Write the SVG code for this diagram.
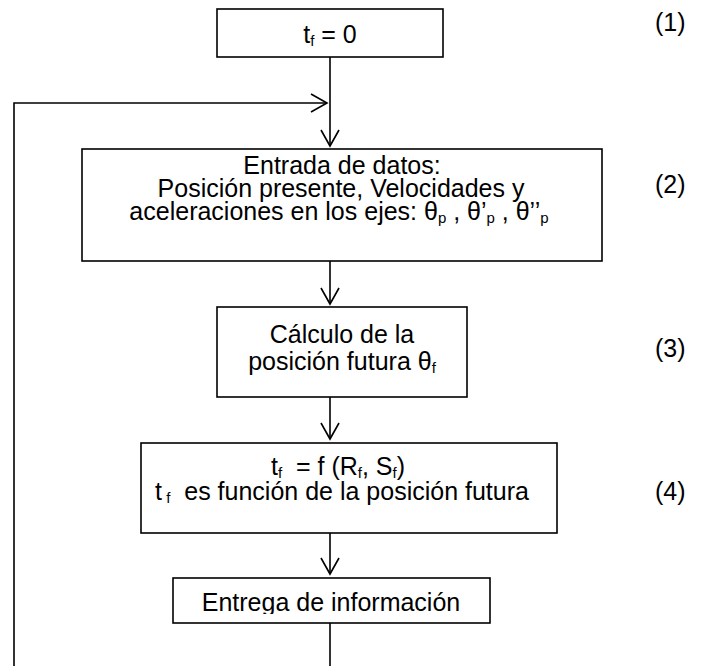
<svg xmlns="http://www.w3.org/2000/svg" width="705" height="666" viewBox="0 0 705 666">
<defs>
<style>
.box{fill:#fff;stroke:#000;stroke-width:1.6}
.t{font-family:"Liberation Sans",Arial,sans-serif;font-size:25px;fill:#000;text-anchor:middle}
.n{font-family:"Liberation Sans",Arial,sans-serif;font-size:25px;fill:#000}
.c{fill:none;stroke:#000;stroke-width:1.6}
.s{font-size:15px}
</style>
<marker id="arr" markerUnits="userSpaceOnUse" markerWidth="20" markerHeight="20" viewBox="0 0 20 20" refX="18" refY="10" orient="auto">
<path d="M2,1 L18,10 L2,19" fill="none" stroke="#000" stroke-width="1.6"/>
</marker>
<clipPath id="clip5"><rect x="173" y="578" width="317" height="36"/></clipPath>
</defs>
<rect width="705" height="666" fill="#fff"/>
<g id="connectors">
<path class="c" d="M330,57 L330,146" marker-end="url(#arr)"/>
<path class="c" d="M14,666 L14,103 L327,103" marker-end="url(#arr)"/>
<path class="c" d="M330,261 L330,304" marker-end="url(#arr)"/>
<path class="c" d="M330,397 L330,439" marker-end="url(#arr)"/>
<path class="c" d="M330,533 L330,574" marker-end="url(#arr)"/>
<path class="c" d="M330,623 L330,666"/>
</g>
<g id="n1">
<rect class="box" x="217" y="9" width="226" height="48"/>
<text class="t" x="330" y="43">t<tspan class="s" dy="3">f</tspan><tspan dy="-3"> = 0</tspan></text>
</g>
<g id="n2">
<rect class="box" x="82" y="149" width="520" height="112"/>
<text class="t" x="342" y="174">Entrada de datos:</text>
<text class="t" x="341" y="197">Posición presente, Velocidades y</text>
<text class="t" x="339" y="220">aceleraciones en los ejes: θ<tspan class="s" dy="3">p</tspan><tspan dy="-3"> , θ’</tspan><tspan class="s" dy="3">p</tspan><tspan dy="-3"> , θ’’</tspan><tspan class="s" dy="3">p</tspan></text>
</g>
<g id="n3">
<rect class="box" x="217" y="307" width="250" height="90"/>
<text class="t" x="342" y="343">Cálculo de la</text>
<text class="t" x="342" y="370">posición futura θ<tspan class="s" dy="3">f</tspan></text>
</g>
<g id="n4">
<rect class="box" x="141" y="443" width="416" height="90"/>
<text class="t" x="338" y="475">t<tspan class="s" dy="3">f</tspan><tspan dy="-3" xml:space="preserve">  = f (R</tspan><tspan class="s" dy="3">f</tspan><tspan dy="-3">, S</tspan><tspan class="s" dy="3">f</tspan><tspan dy="-3">)</tspan></text>
<text class="t" x="342" y="500" xml:space="preserve">t<tspan class="s" dy="3"> f</tspan><tspan dy="-3">  es función de la posición futura</tspan></text>
</g>
<g id="n5">
<rect class="box" x="173" y="578" width="317" height="45"/>
<text class="t" x="331" y="611" clip-path="url(#clip5)">Entrega de información</text>
</g>
<g id="labels">
<text class="n" x="655" y="31">(1)</text>
<text class="n" x="655" y="193">(2)</text>
<text class="n" x="655" y="357">(3)</text>
<text class="n" x="655" y="500">(4)</text>
</g>
</svg>
